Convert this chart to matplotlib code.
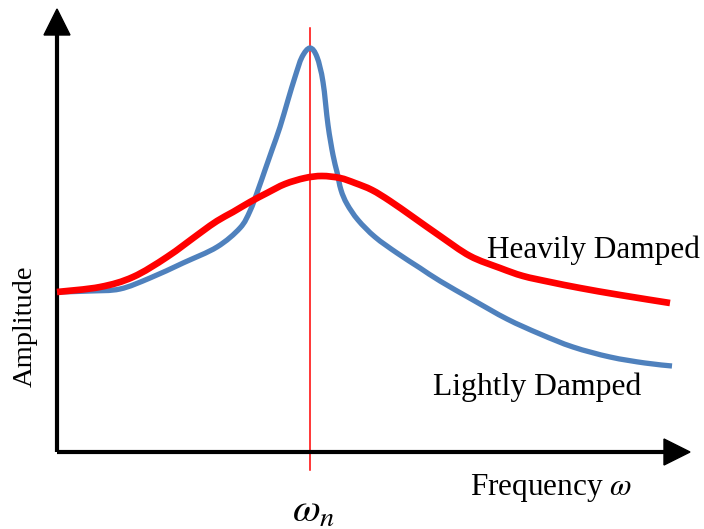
import matplotlib
matplotlib.use("Agg")
import matplotlib.pyplot as plt
from matplotlib.patches import Polygon, PathPatch
from matplotlib.path import Path

plt.rcParams['font.family'] = ['Liberation Serif', 'DejaVu Serif']
plt.rcParams['mathtext.fontset'] = 'stix'

# Data in a pixel-like frame: frequency measured from the y-axis, amplitude up from the x-axis
light_freq = [0, 33, 63, 93, 126, 160, 183, 193, 201, 208, 215, 223, 231, 238, 245, 253, 260, 266,
              271, 276, 280, 284, 290, 301, 318, 340, 363, 383, 416, 450, 483, 516, 553, 588, 615]
light_amp = [160, 161, 163, 174, 189, 205, 224, 241, 262, 282, 302, 325, 352, 375, 395, 404, 395, 370,
             327, 297, 280, 262, 248, 232, 215, 199, 184, 171, 152, 133, 118, 105, 95, 89, 86]

heavy_freq = [0, 43, 76, 110, 143, 160, 176, 193, 210, 228, 248, 265, 283, 298, 315, 333, 356, 383,
              413, 443, 466, 493, 523, 563, 613]
heavy_amp = [160, 165, 175, 195, 219, 231, 240, 250, 259, 268, 274, 276, 274, 269, 262, 251, 235, 216,
             196, 184, 176, 170, 164, 157, 149]

omega_n = 253

W, H = 704, 529
ox, oy = 57, 452  # pixel position of the origin


def smooth_path(xs, ys):
    """Catmull-Rom curve through the points, expressed as cubic Bezier segments."""
    pts = list(zip(xs, ys))
    verts = [pts[0]]
    codes = [Path.MOVETO]
    n = len(pts)
    for i in range(n - 1):
        p0 = pts[i - 1] if i > 0 else pts[i]
        p1 = pts[i]
        p2 = pts[i + 1]
        p3 = pts[i + 2] if i + 2 < n else pts[i + 1]
        c1 = (p1[0] + (p2[0] - p0[0]) / 6, p1[1] + (p2[1] - p0[1]) / 6)
        c2 = (p2[0] - (p3[0] - p1[0]) / 6, p2[1] - (p3[1] - p1[1]) / 6)
        verts += [c1, c2, p2]
        codes += [Path.CURVE4] * 3
    return Path(verts, codes)


fig = plt.figure(figsize=(W / 100, H / 100), dpi=100)
ax = fig.add_axes([0, 0, 1, 1])
ax.set_xlim(-ox, W - ox)
ax.set_ylim(-(H - oy), oy)
ax.axis('off')

# axes with arrows
ax.plot([0, 0], [0, 420], color='black', lw=3, solid_capstyle='butt', zorder=3)
ax.add_patch(Polygon([[-13, 417], [13, 417], [0, 443]], closed=True, color='black', zorder=3))
ax.plot([0, 610], [0, 0], color='black', lw=3, solid_capstyle='butt', zorder=3)
ax.add_patch(Polygon([[607, 13], [607, -13], [633, 0]], closed=True, color='black', zorder=3))

# natural frequency line
ax.plot([omega_n, omega_n], [-18, 424], color='#FF0000', lw=1.1, zorder=2)

# curves
ax.add_patch(PathPatch(smooth_path(light_freq, light_amp), facecolor='none',
                       edgecolor='#4F81BD', lw=3.8, joinstyle='round', capstyle='butt', zorder=4))
ax.add_patch(PathPatch(smooth_path(heavy_freq, heavy_amp), facecolor='none',
                       edgecolor='#FF0000', lw=4.8, joinstyle='round', capstyle='butt', zorder=5))

# labels
ax.text(643, 202, 'Heavily Damped', fontsize=22.5, ha='right', va='center', zorder=6)
ax.text(376, 65, 'Lightly Damped', fontsize=22.8, ha='left', va='center')
ax.text(-32, 126, 'Amplitude', fontsize=20.5, rotation=90, ha='center', va='center')
ax.text(413, -36, r'Frequency $\omega$', fontsize=22.5, ha='left', va='center')
ax.text(omega_n + 4, -60, r'$\omega_n$', fontsize=29, ha='center', va='center')

fig.savefig('out.png', dpi=100)
